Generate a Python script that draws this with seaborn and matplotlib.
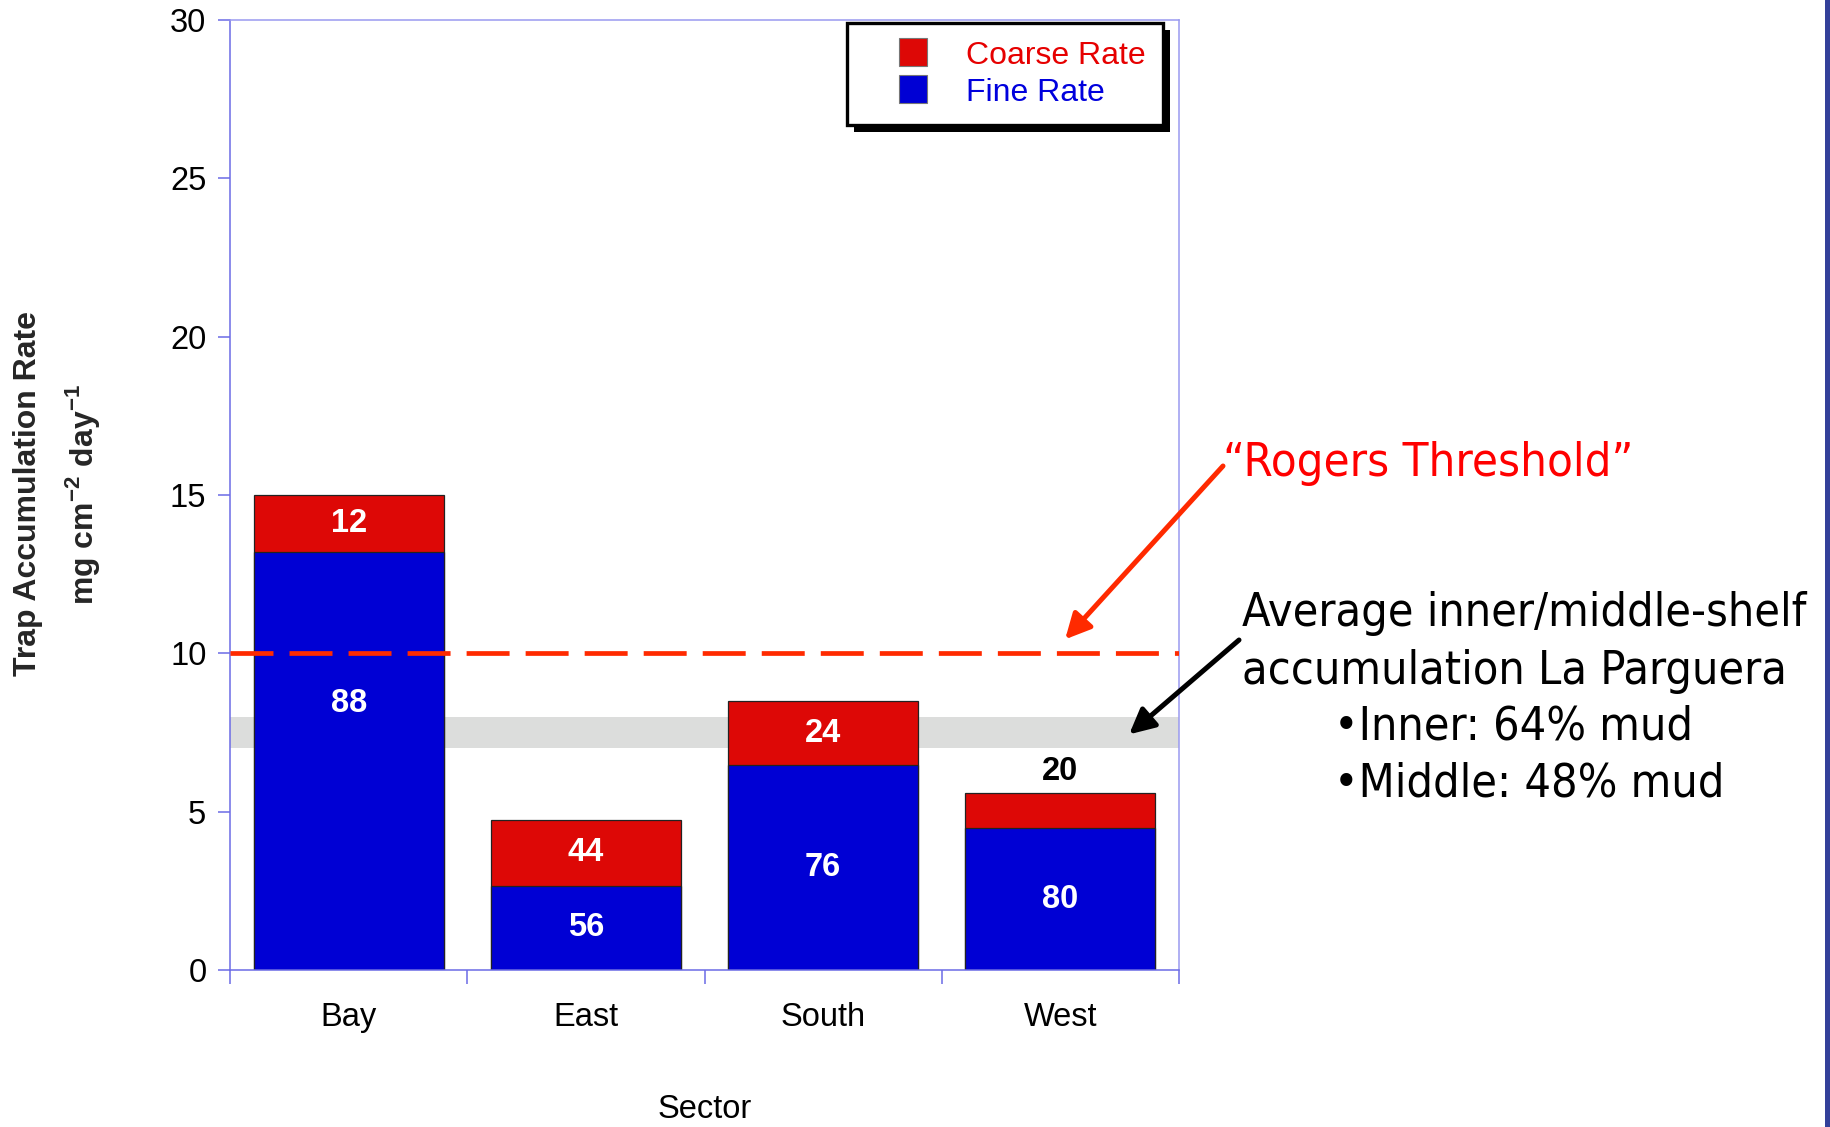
import os
import numpy as np
import pandas as pd
import seaborn as sns
import matplotlib
matplotlib.use("Agg")
import matplotlib.pyplot as plt
from matplotlib import font_manager
from matplotlib.lines import Line2D
from matplotlib.patches import Rectangle

# Trap accumulation by sector (mg cm^-2 day^-1) and fine/coarse split (%)
sectors = ["Bay", "East", "South", "West"]
total_rate = [15.0, 4.75, 8.5, 5.6]
fine_pct = [88, 56, 76, 80]
coarse_pct = [12, 44, 24, 20]
rogers_threshold = 10.0
shelf_band = [7.0, 8.0]

fine_rate = [t * p / 100 for t, p in zip(total_rate, fine_pct)]
coarse_rate = [t - f for t, f in zip(total_rate, fine_rate)]
df = pd.DataFrame({"Sector": sectors, "Total": total_rate, "Fine": fine_rate})

sns.set_theme(style="white")
plt.rcParams["font.family"] = ["Liberation Sans", "DejaVu Sans"]
plt.rcParams["mathtext.fontset"] = "custom"
plt.rcParams["mathtext.rm"] = "Liberation Sans"
plt.rcParams["mathtext.bf"] = "Liberation Sans:bold"

RED = "#dd0806"
BLUE = "#0000d4"
AXIS = "#6b6be6"
THRESH = "#ff2a00"
FS = 23.5

W, H = 1830, 1127
fig = plt.figure(figsize=(W / 100, H / 100), dpi=100)
fig.patch.set_facecolor("white")
ax = fig.add_axes([230 / W, 1 - 970 / H, 949 / W, 950.2 / H])

# shelf accumulation band and stacked bars
ax.axhspan(shelf_band[0], shelf_band[1], color="#dcdddc", lw=0, zorder=0.5)
sns.barplot(data=df, x="Sector", y="Total", color=RED, saturation=1, width=0.8,
            edgecolor="#222222", linewidth=0.9, ax=ax, zorder=2)
sns.barplot(data=df, x="Sector", y="Fine", color=BLUE, saturation=1, width=0.8,
            edgecolor="#222222", linewidth=0.9, ax=ax, zorder=2)

# Rogers threshold
ax.axhline(rogers_threshold, color=THRESH, lw=3.4, dashes=(9.1, 3.4), zorder=3)

# percentage labels
for i, (f, c, tot) in enumerate(zip(fine_rate, coarse_rate, total_rate)):
    fy = 8.4 if i == 0 else f / 2
    ax.text(i, fy, f"{fine_pct[i]}", ha="center", va="center", color="white",
            fontsize=23.5, fontweight="bold", zorder=4)
    if c >= 1.2:
        ax.text(i, f + c / 2, f"{coarse_pct[i]}", ha="center", va="center",
                color="white", fontsize=23.5, fontweight="bold", zorder=4)
    else:
        ax.text(i, tot + 0.68, f"{coarse_pct[i]}", ha="center", va="center",
                color="black", fontsize=23.5, fontweight="bold", zorder=4)

# axes styling
ax.set_xlim(-0.5, 3.5)
ax.set_ylim(0, 30)
ax.set_yticks(np.arange(0, 31, 5))
ax.set_xticks(range(len(sectors)))
ax.set_xticklabels(sectors)
ax.set_xticks(np.arange(-0.5, 3.6, 1.0), minor=True)
for sp in ax.spines.values():
    sp.set_visible(True)
    sp.set_color(AXIS)
    sp.set_linewidth(1.1)
ax.spines["top"].set_color("#9a9af0")
ax.spines["right"].set_color("#9a9af0")
ax.tick_params(axis="y", which="major", left=True, direction="out", length=9,
               width=1.1, color=AXIS, labelsize=FS, pad=8.0, labelcolor="black")
ax.tick_params(axis="x", which="major", bottom=False, length=0, labelsize=FS,
               pad=23, labelcolor="black")
ax.tick_params(axis="x", which="minor", bottom=True, direction="out", length=10,
               width=1.1, color=AXIS)
ax.set_ylabel("")
ax.set_xlabel("Sector", fontsize=FS, color="black")
ax.xaxis.set_label_coords(0.5, (970 - 1110) / 950.2)
ax.xaxis.label.set_va("center")

fig.text(28 / W, 1 - 494 / H, "Trap Accumulation Rate", rotation=90,
         ha="center", va="center", fontsize=23, fontweight="bold")
fig.text(82 / W, 1 - 494 / H, r"mg cm$^{\mathbf{-2}}$ day$^{\mathbf{-1}}$",
         rotation=90, ha="center", va="center", fontsize=23, fontweight="bold")

# legend with coloured labels and a drop shadow
handles = [
    Line2D([], [], marker="s", ls="none", markersize=20, markerfacecolor=RED,
           markeredgecolor="#777777", markeredgewidth=0.8),
    Line2D([], [], marker="s", ls="none", markersize=20, markerfacecolor=BLUE,
           markeredgecolor="#777777", markeredgewidth=0.8),
]
leg = ax.legend(handles, ["Coarse Rate", "Fine Rate"], loc="upper right",
                bbox_to_anchor=(0.983, 0.9966), borderaxespad=0, fontsize=23,
                frameon=True, fancybox=False, handlelength=3.05,
                handletextpad=0.12, borderpad=0.55, labelspacing=0.22,
                labelcolor=["#e60000", "#0000dd"], framealpha=1)
leg.get_frame().set_edgecolor("black")
leg.get_frame().set_linewidth(2.4)
leg.set_zorder(6)

# annotations on the right
cond_path = font_manager.findfont(
    font_manager.FontProperties(family="DejaVu Sans", stretch="condensed"))
have_cond = "Condensed" in os.path.basename(cond_path)
note_kw = dict(family="DejaVu Sans", stretch="condensed" if have_cond else "normal")
note_size = 33.5 if have_cond else 30

ax.annotate("", xy=(3.02, 10.44), xytext=(1223 / W, 1 - 466 / H),
            textcoords="figure fraction", annotation_clip=False,
            arrowprops=dict(arrowstyle="-|>", color=THRESH, lw=3.6,
                            mutation_scale=38, shrinkA=0, shrinkB=0))
fig.text(1223 / W, 1 - 464 / H, "\u201cRogers Threshold\u201d", color="#ff0000",
         ha="left", va="center", fontsize=note_size * 1.01, **note_kw)

ax.annotate("", xy=(3.29, 7.44), xytext=(1239 / W, 1 - 640 / H),
            textcoords="figure fraction", annotation_clip=False,
            arrowprops=dict(arrowstyle="-|>", color="black", lw=3.6,
                            mutation_scale=38, shrinkA=0, shrinkB=0))
note_lines = [
    (1242, 614, "Average inner/middle-shelf"),
    (1242, 672, "accumulation La Parguera"),
    (1334, 727, "\u2022Inner: 64% mud"),
    (1334, 784, "\u2022Middle: 48% mud"),
]
for x, y, s in note_lines:
    fig.text(x / W, 1 - y / H, s, color="black", ha="left", va="center",
             fontsize=note_size, **note_kw)

# slide edge
fig.add_artist(Rectangle((1825 / W, 0), 5 / W, 1, transform=fig.transFigure,
                         color="#33409a", lw=0))

fig.canvas.draw()
bb = leg.get_frame().get_window_extent()
inv = fig.transFigure.inverted()
(x0, y0), (x1, y1) = inv.transform([(bb.x0 + 7, bb.y0 - 7), (bb.x1 + 7, bb.y1 - 7)])
ax.add_patch(Rectangle((x0, y0), x1 - x0, y1 - y0, transform=fig.transFigure,
                       color="black", lw=0, clip_on=False, zorder=5.5))

fig.savefig("out.png", dpi=100, facecolor="white")
